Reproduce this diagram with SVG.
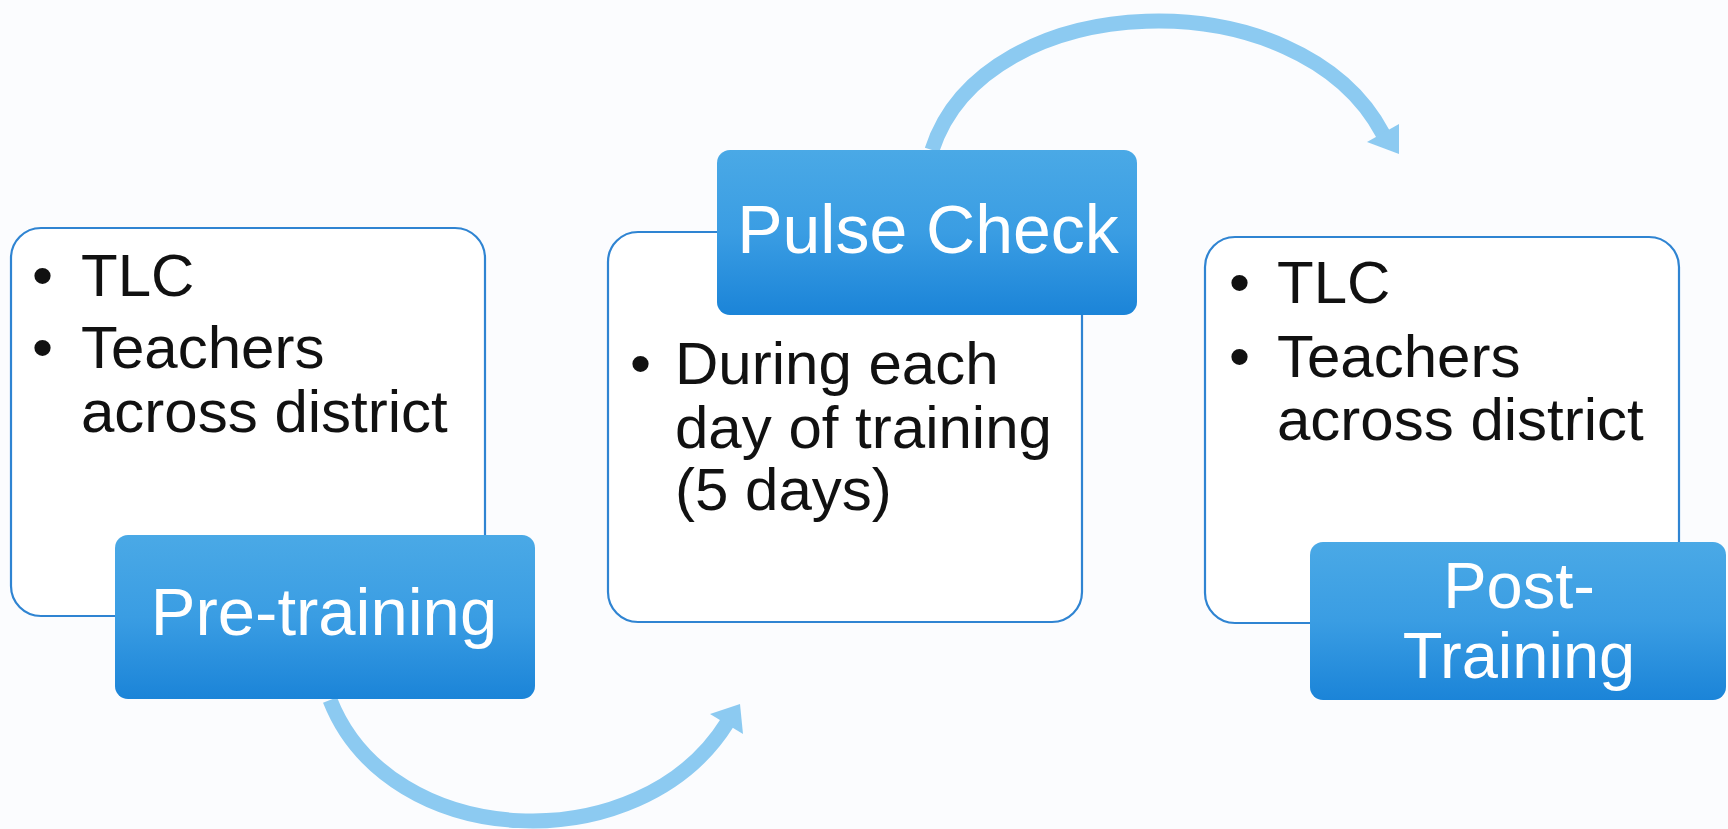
<svg xmlns="http://www.w3.org/2000/svg" width="1728" height="829" viewBox="0 0 1728 829">
  <defs>
    <linearGradient id="blueGrad" x1="0" y1="0" x2="0" y2="1">
      <stop offset="0" stop-color="#4aa9e6"/>
      <stop offset="0.5" stop-color="#3a9de3"/>
      <stop offset="1" stop-color="#1b84d8"/>
    </linearGradient>
  </defs>
  <style>
    .body { fill: #ffffff; stroke: #2f84d2; stroke-width: 2.2; }
    .label { fill: url(#blueGrad); stroke: none; }
    .txt { font-family: "Liberation Sans", Arial, sans-serif; font-size: 60px; fill: #111111; }
    .ltxt { font-family: "Liberation Sans", Arial, sans-serif; fill: #ffffff; text-anchor: middle; }
    .arc { fill: none; stroke: #8ccaf1; stroke-width: 15; }
    .head { fill: #8ccaf1; }
  </style>
  <rect x="0" y="0" width="1728" height="829" fill="#fbfcfe"/>

  <g id="connectors">
    <path class="arc" d="M330,700 C390,852 640,862 727,723"/>
    <polygon class="head" points="740,704 710,714 743,734"/>
    <path class="arc" d="M932,150 C985,-14 1300,-24 1383,134"/>
    <polygon class="head" points="1399,154 1367,142 1399,124"/>
  </g>

  <g id="pre-body">
    <rect class="body" x="11" y="228" width="474" height="388" rx="30" ry="30"/>
    <text class="txt" x="32" y="296">•</text>
    <text class="txt" x="81" y="296">TLC</text>
    <text class="txt" x="32" y="368">•</text>
    <text class="txt" x="81" y="368">Teachers</text>
    <text class="txt" x="81" y="432">across district</text>
  </g>

  <g id="pulse-body">
    <rect class="body" x="608" y="232" width="474" height="390" rx="30" ry="30"/>
    <text class="txt" x="630" y="384">•</text>
    <text class="txt" x="675" y="384">During each</text>
    <text class="txt" x="675" y="448">day of training</text>
    <text class="txt" x="675" y="510">(5 days)</text>
  </g>

  <g id="post-body">
    <rect class="body" x="1205" y="237" width="474" height="386" rx="30" ry="30"/>
    <text class="txt" x="1229" y="303">•</text>
    <text class="txt" x="1277" y="303">TLC</text>
    <text class="txt" x="1229" y="377">•</text>
    <text class="txt" x="1277" y="377">Teachers</text>
    <text class="txt" x="1277" y="440">across district</text>
  </g>

  <g id="pre-training">
    <rect class="label" x="115" y="535" width="420" height="164" rx="13" ry="13"/>
    <text class="ltxt" x="324" y="635" font-size="67">Pre-training</text>
  </g>

  <g id="pulse-check">
    <rect class="label" x="717" y="150" width="420" height="165" rx="13" ry="13"/>
    <text class="ltxt" x="928" y="253" font-size="68">Pulse Check</text>
  </g>

  <g id="post-training">
    <rect class="label" x="1310" y="542" width="416" height="158" rx="13" ry="13"/>
    <text class="ltxt" x="1519" y="608" font-size="65">Post-</text>
    <text class="ltxt" x="1519" y="678" font-size="65">Training</text>
  </g>
</svg>
